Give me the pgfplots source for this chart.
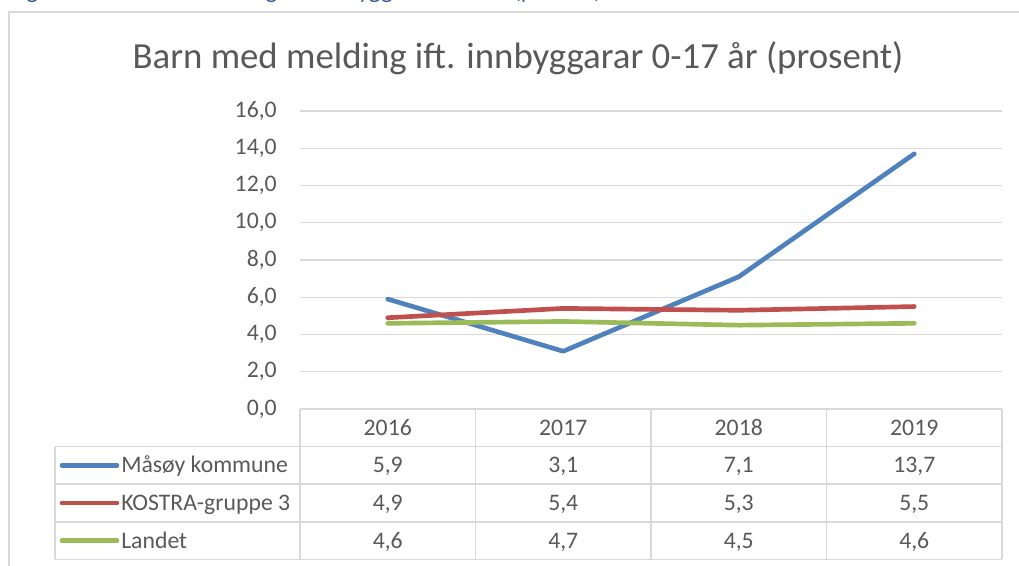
\documentclass[border=0pt]{standalone}
\usepackage{fontspec}
\setmainfont{Carlito}
\usepackage{pgfplots}
\pgfplotsset{compat=1.18}
\definecolor{textgray}{HTML}{595959}
\definecolor{gridgray}{HTML}{D9D9D9}
\definecolor{sblue}{HTML}{4F81BD}
\definecolor{sred}{HTML}{C0504D}
\definecolor{sgreen}{HTML}{9BBB59}
\definecolor{capblue}{HTML}{2F5597}
\newcommand{\tfont}{\fontsize{17.8pt}{21pt}\selectfont}
\begin{document}
\begin{tikzpicture}
\begin{scope}[x=0.75pt,y=0.75pt]
\useasboundingbox (0,0) rectangle (1019,566);
\begin{scope}
\clip (0,0) rectangle (1019,566);
\node[anchor=base west, inner sep=0pt, text=capblue, font=\tfont\itshape] at (11,567) {Figur 18: Barn med melding ift. innbyggarar 0-17 år (prosent)};
\end{scope}
% outer frame
\draw[gridgray, line width=1.1pt] (9,-5) -- (9,554) -- (1025,554);
% title
\node[anchor=base, inner sep=0pt, text=textgray, font=\fontsize{27.6pt}{32pt}\selectfont] at (518,497) {Barn med melding ift. innbyggarar 0-17 år (prosent)};
\end{scope}

\begin{axis}[
  at={(225pt,117.75pt)}, anchor=south west,
  scale only axis, width=526.5pt, height=223.5pt,
  xmin=-0.5, xmax=3.5, ymin=0, ymax=16,
  ytick={0,2,...,16}, xtick=\empty,
  ymajorgrids, major grid style={draw=gridgray, line width=1pt},
  axis line style={draw=none}, major tick length=0pt,
  yticklabel style={font=\tfont, text=textgray, anchor=east, inner sep=0pt, xshift=-17.25pt},
  /pgf/number format/use comma,
  /pgf/number format/fixed,
  /pgf/number format/fixed zerofill,
  /pgf/number format/precision=1,
  /pgf/number format/assume math mode=true,
  every axis plot/.append style={line width=3.5pt, line join=round, line cap=round, mark=none},
]
\addplot[sblue] coordinates {(0,5.9) (1,3.1) (2,7.1) (3,13.7)};
\addplot[sred] coordinates {(0,4.9) (1,5.4) (2,5.3) (3,5.5)};
\addplot[sgreen] coordinates {(0,4.6) (1,4.7) (2,4.5) (3,4.6)};
\end{axis}

\begin{scope}[x=0.75pt,y=0.75pt]
% table grid
\draw[gridgray, line width=1.1pt] (300,157) -- (1002,157);
\draw[gridgray, line width=1.1pt] (55,119.4) -- (1002,119.4);
\draw[gridgray, line width=1.1pt] (55,81.8) -- (1002,81.8);
\draw[gridgray, line width=1.1pt] (55,44.2) -- (1002,44.2);
\draw[gridgray, line width=1.1pt] (55,6.6) -- (1002,6.6);
\draw[gridgray, line width=1.1pt] (55,119.4) -- (55,6.6);
\foreach \xx in {300,475.5,651,826.5,1002} {
  \draw[gridgray, line width=1.1pt] (\xx,157) -- (\xx,6.6);
}
% header
\foreach \xx/\lab in {387.75/2016,563.25/2017,738.75/2018,914.25/2019} {
  \node[anchor=base, inner sep=0pt, text=textgray, font=\tfont] at (\xx,130.7) {\lab};
}
% legend keys and names
\draw[sblue, line width=3.5pt, line cap=round] (62,100.6) -- (117,100.6);
\draw[sred, line width=3.5pt, line cap=round] (62,63) -- (117,63);
\draw[sgreen, line width=3.5pt, line cap=round] (62,25.4) -- (117,25.4);
\node[anchor=base west, inner sep=0pt, text=textgray, font=\tfont] at (121,93.1) {Måsøy kommune};
\node[anchor=base west, inner sep=0pt, text=textgray, font=\tfont] at (121,55.5) {KOSTRA-gruppe 3};
\node[anchor=base west, inner sep=0pt, text=textgray, font=\tfont] at (121,17.9) {Landet};
% values
\foreach \xx/\va/\vb/\vc in {387.75/{5,9}/{4,9}/{4,6}, 563.25/{3,1}/{5,4}/{4,7}, 738.75/{7,1}/{5,3}/{4,5}, 914.25/{13,7}/{5,5}/{4,6}} {
  \node[anchor=base, inner sep=0pt, text=textgray, font=\tfont] at (\xx,93.1) {\va};
  \node[anchor=base, inner sep=0pt, text=textgray, font=\tfont] at (\xx,55.5) {\vb};
  \node[anchor=base, inner sep=0pt, text=textgray, font=\tfont] at (\xx,17.9) {\vc};
}
\end{scope}
\end{tikzpicture}
\end{document}
